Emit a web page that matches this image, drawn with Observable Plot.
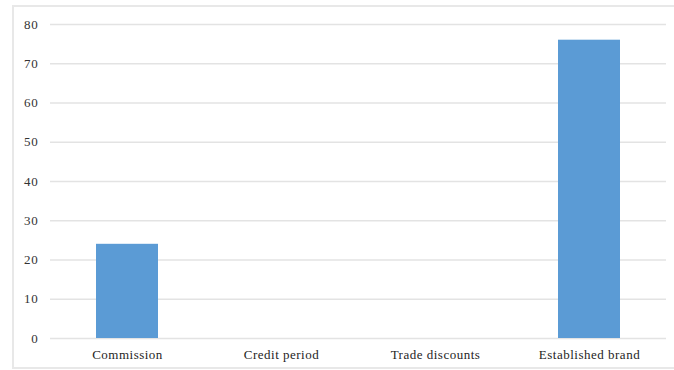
<!DOCTYPE html>
<html>
<head>
<meta charset="utf-8">
<script src="https://cdn.jsdelivr.net/npm/d3@7"></script>
<script src="https://cdn.jsdelivr.net/npm/@observablehq/plot@0.6"></script>
<style>
  html, body { margin: 0; padding: 0; background: #fff; }
  #wrap { position: relative; width: 674px; height: 370px; }
  #frame { position: absolute; left: 12px; top: 5px; width: 670px; height: 364px; border: 2px solid #e8e8e8; box-sizing: border-box; }
  #chart { position: absolute; left: 0; top: 0; }
  #chart svg text { font-family: "Liberation Serif", "Times New Roman", serif; font-size: 13px; }
  #chart svg g[aria-label="x-axis tick label"] text { fill: #1e1e1e; letter-spacing: 0.5px; }
  #chart svg g[aria-label="y-axis tick label"] text { fill: #333; letter-spacing: 0.8px; }
</style>
</head>
<body>
<div id="wrap"><div id="frame"></div><div id="chart"></div></div>
<script>
const categories = ["Commission", "Credit period", "Trade discounts", "Established brand"];
const values = [24, 0, 0, 76];
const yTicks = [0, 10, 20, 30, 40, 50, 60, 70, 80];

const data = categories.map((c, i) => ({category: c, value: values[i]}));

const chart = Plot.plot({
  width: 674,
  height: 370,
  marginLeft: 50,
  marginRight: 8,
  marginTop: 24,
  marginBottom: 32,
  style: {background: "transparent"},
  x: {domain: categories, paddingInner: 0.6, paddingOuter: 0.3, label: null, tickSize: 0, tickPadding: 11},
  y: {domain: [0, 80], ticks: yTicks, label: null, tickSize: 0, tickPadding: 12},
  marks: [
    Plot.ruleY(yTicks, {stroke: "#e3e3e3", strokeWidth: 1.5}),
    Plot.barY(data, {x: "category", y: "value", fill: "#5b9bd5"})
  ]
});
document.getElementById("chart").appendChild(chart);
</script>
</body>
</html>
